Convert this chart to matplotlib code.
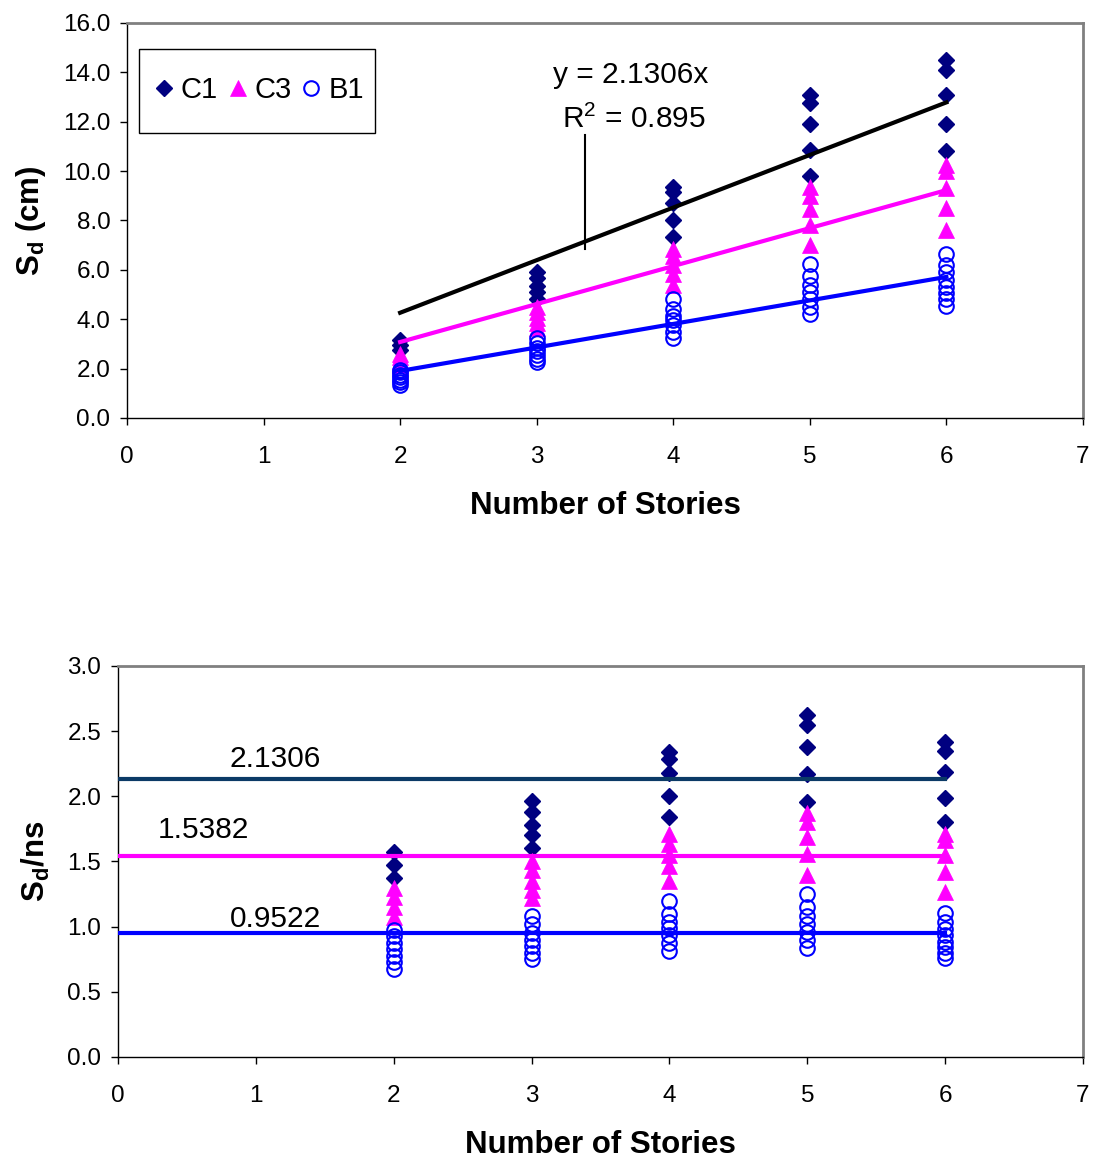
import numpy as np
import matplotlib
matplotlib.use("Agg")
import matplotlib.pyplot as plt
from matplotlib.patches import Rectangle

plt.rcParams["font.family"] = ["Liberation Sans", "DejaVu Sans"]
plt.rcParams["mathtext.fontset"] = "custom"
plt.rcParams["mathtext.rm"] = "Liberation Sans"
plt.rcParams["mathtext.it"] = "Liberation Sans"
plt.rcParams["mathtext.bf"] = "Liberation Sans:bold"

# number of stories and spectral displacement Sd (cm) per building type
stories = [2, 3, 4, 5, 6]
c1_sd = [
    [3.15, 2.95, 2.75],
    [5.9, 5.65, 5.35, 5.1, 4.8],
    [9.35, 9.15, 8.7, 8.0, 7.35],
    [13.1, 12.75, 11.9, 10.85, 9.8],
    [14.5, 14.1, 13.1, 11.9, 10.8],
]
c3_sd = [
    [2.6, 2.45, 2.3, 2.15],
    [4.5, 4.3, 4.05, 3.85, 3.65],
    [6.85, 6.55, 6.2, 5.85, 5.4],
    [9.35, 9.0, 8.45, 7.8, 7.0],
    [10.25, 10.0, 9.3, 8.5, 7.6],
]
b1_sd = [
    [1.95, 1.85, 1.75, 1.65, 1.55, 1.45, 1.35],
    [3.25, 3.05, 2.85, 2.7, 2.55, 2.4, 2.25],
    [4.8, 4.4, 4.15, 3.95, 3.75, 3.5, 3.25],
    [6.25, 5.75, 5.4, 5.1, 4.8, 4.5, 4.2],
    [6.65, 6.2, 5.9, 5.6, 5.3, 5.05, 4.8, 4.55],
]
# fitted slopes (Sd = slope * ns)
slope_c1 = 2.1306
slope_c3 = 1.5382
slope_b1 = 0.9522
r2_c1 = 0.895

NAVY = "#000080"
MAGENTA = "#FF00FF"
BLUE = "#0000FF"
DARKLINE = "#0B3A66"


def flatten(groups, divide=False):
    xs, ys = [], []
    for n, vals in zip(stories, groups):
        for v in vals:
            xs.append(n)
            ys.append(v / n if divide else v)
    return np.array(xs), np.array(ys)


def draw_points(ax, divide):
    x, y = flatten(c1_sd, divide)
    ax.plot(x, y, ls="none", marker="D", ms=8.5, color=NAVY, mec=NAVY, label="C1", zorder=3)
    x, y = flatten(c3_sd, divide)
    ax.plot(x, y, ls="none", marker="^", ms=11.5, color=MAGENTA, mec=MAGENTA, mew=0.5, label="C3", zorder=3)
    x, y = flatten(b1_sd, divide)
    ax.plot(x, y, ls="none", marker="o", ms=10.5, mfc="none", mec=BLUE, mew=1.5, label="B1", zorder=3)


def style_axes(ax):
    for side in ["top", "right"]:
        ax.spines[side].set_color("#808080")
        ax.spines[side].set_linewidth(2)
    for side in ["left", "bottom"]:
        ax.spines[side].set_color("black")
        ax.spines[side].set_linewidth(1)
    ax.tick_params(direction="out", length=5, width=1, labelsize=17.5)
    ax.tick_params(axis="x", pad=15)
    ax.tick_params(axis="y", pad=7)
    ax.set_xlim(0, 7)
    ax.set_xticks(range(0, 8))


fig = plt.figure(figsize=(10.95, 11.6), dpi=100)

# ---- top: Sd vs number of stories
ax1 = fig.add_axes([0.116, 0.6397, 0.873, 0.3405])
draw_points(ax1, divide=False)
xl = np.array([2, 6])
ax1.plot(xl, slope_c1 * xl, color="black", lw=3, zorder=4)
ax1.plot(xl, slope_c3 * xl, color=MAGENTA, lw=3, zorder=4)
ax1.plot(xl, slope_b1 * xl, color=BLUE, lw=3, zorder=4)
ax1.plot([3.35, 3.35], [6.85, 11.45], color="black", lw=1.5, zorder=4)
ax1.text(3.69, 13.9, f"y = {slope_c1}x", ha="center", va="center", fontsize=21.5)
ax1.text(3.71, 12.1, f"R$^2$ = {r2_c1}", ha="center", va="center", fontsize=21.5)
ax1.set_ylim(0, 16)
ax1.set_yticks(np.arange(0, 16.1, 2))
ax1.set_yticklabels([f"{v:.1f}" for v in np.arange(0, 16.1, 2)])
style_axes(ax1)
ax1.set_xlabel("Number of Stories", fontsize=22.5, fontweight="bold", labelpad=17)
ax1.set_ylabel(r"$\mathbf{S_d}$ (cm)", fontsize=22.5, fontweight="bold", labelpad=11)

# legend: frameless entries inside a plain rectangle box
leg = ax1.legend(loc="center", bbox_to_anchor=(0.139, 0.83), ncol=3,
                 fontsize=21, frameon=False, handlelength=0.55, handletextpad=0.3,
                 columnspacing=0.4, borderaxespad=0, borderpad=0)
ax1.add_patch(Rectangle((0.01255, 0.7215), 0.2469, 0.2127, transform=ax1.transAxes,
                        fill=False, edgecolor="black", lw=1, zorder=5, clip_on=False))

# ---- bottom: Sd / ns vs number of stories
ax2 = fig.add_axes([0.1078, 0.0888, 0.8812, 0.3371])
draw_points(ax2, divide=True)
xh = np.array([0, 6])
ax2.plot(xh, [slope_c1] * 2, color=DARKLINE, lw=3, zorder=4)
ax2.plot(xh, [slope_c3] * 2, color=MAGENTA, lw=3, zorder=4)
ax2.plot(xh, [slope_b1] * 2, color=BLUE, lw=3, zorder=4)
ax2.text(1.14, 2.29, f"{slope_c1}", ha="center", va="center", fontsize=21.5)
ax2.text(0.62, 1.74, f"{slope_c3}", ha="center", va="center", fontsize=21.5)
ax2.text(1.14, 1.06, f"{slope_b1}", ha="center", va="center", fontsize=21.5)
ax2.set_ylim(0, 3)
ax2.set_yticks(np.arange(0, 3.01, 0.5))
ax2.set_yticklabels([f"{v:.1f}" for v in np.arange(0, 3.01, 0.5)])
style_axes(ax2)
ax2.set_xlabel("Number of Stories", fontsize=22.5, fontweight="bold", labelpad=17)
ax2.set_ylabel(r"$\mathbf{S_d}$/ns", fontsize=22.5, fontweight="bold", labelpad=11)

fig.savefig("out.png", dpi=100)
